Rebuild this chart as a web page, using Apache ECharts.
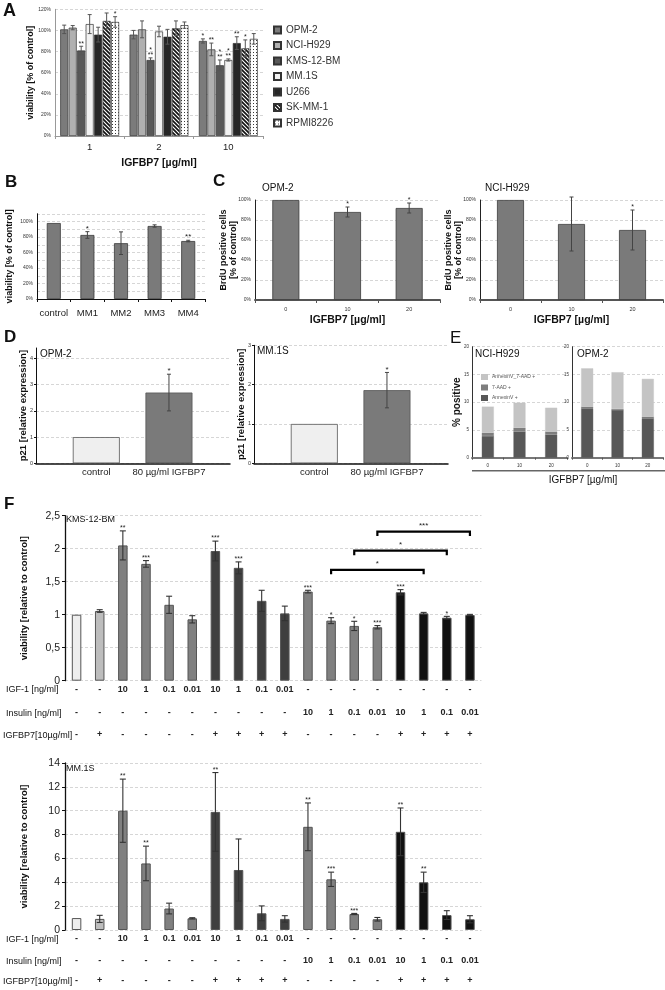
<!DOCTYPE html>
<html><head><meta charset="utf-8">
<script src="https://cdn.jsdelivr.net/npm/echarts@6/dist/echarts.min.js"></script>
<style>html,body{margin:0;padding:0;background:#fff}#c{width:665px;height:990px}</style>
</head><body><div id="c"></div>
<script>
// ---------------- DATA ----------------
// Panel A
const aGroups = ['1', '2', '10'];
const aLines = ['OPM-2', 'NCI-H929', 'KMS-12-BM', 'MM.1S', 'U266', 'SK-MM-1', 'RPMI8226'];
const aOPM2 = [101, 96, 90];      const aOPM2Err = [4, 4, 2];     const aOPM2Stars = ['', '', '*'];
const aNCI = [102.6, 101, 82];    const aNCIErr = [2, 8, 6];      const aNCIStars = ['', '', '**'];
const aKMS = [81, 72, 67];        const aKMSErr = [4, 2, 5];      const aKMSStars = ['**', '*\n**', '*\n**'];
const aMM1S = [106, 99, 72];      const aMM1SErr = [9, 5, 1];     const aMM1SStars = ['', '', '*\n**'];
const aU266 = [96, 94, 88];       const aU266Err = [7, 7, 6];     const aU266Stars = ['', '', '**'];
const aSK = [109, 102, 83];       const aSKErr = [7.5, 7, 8];     const aSKStars = ['', '', '*'];
const aRPMI = [108, 105, 92];     const aRPMIErr = [5, 3, 5];     const aRPMIStars = ['*', '', ''];
// Panel B
const bCats = ['control', 'MM1', 'MM2', 'MM3', 'MM4'];
const bVals = [98, 82.6, 72, 94.2, 74.8];
const bErr = [0, 4.3, 14.6, 1.5, 1];
const bStars = ['', '*', '', '', '**'];
// Panel C
const cCats = ['0', '10', '20'];
const cOPM = [100, 88, 92];   const cOPMErr = [0, 5, 5];   const cOPMStars = ['', '*', '*'];
const cNCI = [100, 76, 70];   const cNCIErr = [0, 27, 20]; const cNCIStars = ['', '', '*'];
// Panel D
const dCats = ['control', '80 µg/ml IGFBP7'];
const dXs = [1, 2];
const dOPM = [1, 2.7];   const dOPMErr = [0, 0.7];   const dOPMStars = ['', '*'];
const dMM = [1, 1.86];   const dMMErr = [0, 0.45];   const dMMStars = ['', '*'];
// Panel E
const eCats = ['0', '10', '20'];
const eNames = ['AnnexinV +', '7-AAD +', 'AnnexinV_7-AAD +'];
const eNCIAnnexin = [3.9, 4.7, 4.15];  const eNCIAAD = [0.6, 0.7, 0.55];  const eNCIDouble = [4.7, 4.5, 4.3];
const eOPMAnnexin = [8.9, 8.6, 7.1];   const eOPMAAD = [0.3, 0.2, 0.3];   const eOPMDouble = [6.9, 6.6, 6.8];
// Panel F
const fIGF = ['-', '-', '10', '1', '0.1', '0.01', '10', '1', '0.1', '0.01', '-', '-', '-', '-', '-', '-', '-', '-'];
const fIns = ['-', '-', '-', '-', '-', '-', '-', '-', '-', '-', '10', '1', '0.1', '0.01', '10', '1', '0.1', '0.01'];
const fBP = ['-', '+', '-', '-', '-', '-', '+', '+', '+', '+', '-', '-', '-', '-', '+', '+', '+', '+'];
const fKMS = [1.0, 1.056, 2.05, 1.77, 1.15, 0.93, 1.965, 1.71, 1.21, 1.02, 1.35, 0.91, 0.83, 0.81, 1.34, 1.02, 0.955, 0.995];
const fKMSErr = [0, 0.02, 0.22, 0.05, 0.13, 0.055, 0.15, 0.09, 0.16, 0.11, 0.02, 0.045, 0.07, 0.025, 0.04, 0.015, 0.02, 0.01];
const fKMSStars = ['', '', '**', '***', '', '', '***', '***', '', '', '***', '*', '*', '***', '***', '', '*', ''];
const fBrFrom = [13, 12, 11];
const fBrTo = [17, 16, 15];
const fBrLevel = [2.26, 1.97, 1.68];
const fBrStars = ['***', '*', '*'];
const fMM = [1.0, 0.93, 10.0, 5.58, 1.8, 0.98, 9.9, 5.03, 1.4, 0.93, 8.65, 4.25, 1.34, 0.9, 8.23, 4.0, 1.25, 0.9];
const fMMErr = [0, 0.3, 2.65, 1.45, 0.45, 0.05, 3.3, 2.6, 0.62, 0.27, 2.0, 0.6, 0.05, 0.15, 2.0, 0.85, 0.37, 0.3];
const fMMStars = ['', '', '**', '**', '', '', '**', '', '', '', '**', '***', '***', '', '**', '**', '', ''];

// ---------------- STYLE / BUILD ----------------
const FONT = "'Liberation Sans', Arial, Helvetica, sans-serif";
const grids = [], xAxes = [], yAxes = [], series = [], graphics = [];
const addGrid = g => grids.push(Object.assign({show: false, outerBoundsMode: 'none', containLabel: false}, g)) - 1;
const addX = o => xAxes.push(Object.assign({nameMoveOverlap: false}, o)) - 1;
const addY = o => yAxes.push(Object.assign({nameMoveOverlap: false}, o)) - 1;
const GL = {show: true, lineStyle: {color: '#cccccc', type: [3, 2], width: 0.8}};
const NOGL = {show: false};
function seg(x1, y1, x2, y2, c, w) { return {type: 'line', shape: {x1, y1, x2, y2}, style: {stroke: c, lineWidth: w}}; }
function errSeries(xi, yi, xs, vals, errs, stars, o) {
  return {type: 'custom', xAxisIndex: xi, yAxisIndex: yi, z: 10, silent: true, clip: false,
    data: vals.map((v, i) => [xs ? xs[i] : i, v, errs[i]]),
    renderItem(params, api) {
      const i = params.dataIndex, x = api.value(0), v = api.value(1), e = api.value(2);
      const p = api.coord([x, v]), t = api.coord([x, v + e]), b = api.coord([x, v - e]);
      const cx = p[0] + (o.offset || 0), w = o.whisker / 2, ch = [];
      const col = o.color || '#444', lw = o.lw || 1;
      if (e > 0) ch.push(seg(cx, t[1], cx, b[1], col, lw), seg(cx - w, t[1], cx + w, t[1], col, lw), seg(cx - w, b[1], cx + w, b[1], col, lw));
      const s = stars ? stars[i] : '';
      const fs = o.starSize || 7;
      if (s) ch.push({type: 'text', style: {text: s, x: cx, y: Math.min(t[1], p[1]) - (o.gap || 0), align: 'center', verticalAlign: 'bottom', fontSize: fs, fontFamily: FONT, fill: '#222', lineHeight: fs * 0.75}});
      return {type: 'group', children: ch};
    }};
}
function txt(x, y, s, size, bold, extra) {
  graphics.push({type: 'text', x, y, silent: true, style: Object.assign({text: s, fontSize: size, fontWeight: bold ? 'bold' : 'normal', fontFamily: FONT, fill: '#111', align: 'left', verticalAlign: 'middle'}, extra || {})});
}
function pattern(kind) {
  const c = document.createElement('canvas');
  const g = c.getContext('2d');
  if (kind === 'stripes') {
    c.width = c.height = 4;
    g.fillStyle = '#ffffff'; g.fillRect(0, 0, 4, 4);
    g.strokeStyle = '#111'; g.lineWidth = 1.7; g.beginPath();
    g.moveTo(0, 0); g.lineTo(4, 4); g.moveTo(3, -1); g.lineTo(5, 1); g.moveTo(-1, 3); g.lineTo(1, 5); g.stroke();
  } else {
    c.width = c.height = 3;
    g.fillStyle = '#ffffff'; g.fillRect(0, 0, 3, 3);
    g.fillStyle = '#3a3a3a'; g.fillRect(1, 1, 1, 1);
  }
  return {image: c, repeat: 'repeat'};
}

// ---------- Panel A ----------
const gA = addGrid({left: 55, top: 9.3, width: 208, height: 126.7});
const xA = addX({type: 'category', gridIndex: gA, data: aGroups,
  axisLine: {lineStyle: {color: '#999', width: 1}}, axisTick: {show: true, alignWithLabel: false, length: 3, lineStyle: {color: '#999'}},
  axisLabel: {fontSize: 9.5, color: '#222', margin: 6, interval: 0}, splitLine: NOGL,
  name: 'IGFBP7 [µg/ml]', nameLocation: 'middle', nameGap: 22, nameTextStyle: {fontSize: 10.5, fontWeight: 'bold', color: '#111'}});
const yA = addY({type: 'value', gridIndex: gA, min: 0, max: 120, interval: 20,
  axisLine: {show: true, lineStyle: {color: '#999'}}, axisTick: {show: false},
  axisLabel: {fontSize: 5, color: '#333', formatter: '{value}%', margin: 4}, splitLine: GL,
  name: 'viability [% of control]', nameLocation: 'middle', nameGap: 20, nameTextStyle: {fontSize: 9, fontWeight: 'bold', color: '#111'}});
const aVals = [aOPM2, aNCI, aKMS, aMM1S, aU266, aSK, aRPMI];
const aErrs = [aOPM2Err, aNCIErr, aKMSErr, aMM1SErr, aU266Err, aSKErr, aRPMIErr];
const aStars = [aOPM2Stars, aNCIStars, aKMSStars, aMM1SStars, aU266Stars, aSKStars, aRPMIStars];
const aFill = ['#7b7b7b', '#b0b0b0', '#585858', '#f2f2f2', '#262626', pattern('stripes'), pattern('dots')];
const A_BW = 8, A_GAP = 0.06;
const aGroupW = aLines.length * A_BW + (aLines.length - 1) * A_BW * A_GAP;
aLines.forEach((name, i) => {
  series.push({type: 'bar', name, xAxisIndex: xA, yAxisIndex: yA, data: aVals[i], barWidth: A_BW, barGap: (A_GAP * 100) + '%',
    itemStyle: {color: aFill[i], borderColor: '#333', borderWidth: 0.7}});
});
aLines.forEach((name, i) => {
  const off = -aGroupW / 2 + A_BW / 2 + i * A_BW * (1 + A_GAP);
  series.push(errSeries(xA, yA, null, aVals[i], aErrs[i], aStars[i], {offset: off, whisker: 4, starSize: 7, color: '#555'}));
});

// ---------- Panel B ----------
const gB = addGrid({left: 37, top: 213.75, width: 168, height: 85.25});
const xB = addX({type: 'category', gridIndex: gB, data: bCats,
  axisLine: {lineStyle: {color: '#111', width: 1.2}}, axisTick: {show: true, length: 3, lineStyle: {color: '#111'}},
  axisLabel: {fontSize: 9.5, color: '#222', margin: 9, interval: 0}, splitLine: NOGL});
const yB = addY({type: 'value', gridIndex: gB, min: 0, max: 110, interval: 10,
  axisLine: {show: true, lineStyle: {color: '#111'}}, axisTick: {show: false},
  axisLabel: {fontSize: 5, color: '#333', margin: 4, showMaxLabel: false, formatter: v => (v % 20 === 0 ? v + '%' : '')}, splitLine: GL,
  name: 'viability [% of control]', nameLocation: 'middle', nameGap: 23, nameTextStyle: {fontSize: 9, fontWeight: 'bold', color: '#111'}});
series.push({type: 'bar', name: 'B', xAxisIndex: xB, yAxisIndex: yB, data: bVals, barWidth: 14,
  itemStyle: {color: '#7a7a7a', borderColor: '#3a3a3a', borderWidth: 0.8}});
series.push(errSeries(xB, yB, null, bVals, bErr, bStars, {whisker: 4, starSize: 8}));

// ---------- Panel C ----------
function panelC(left, width, vals, errs, stars) {
  const g = addGrid({left, top: 200, width, height: 100});
  const xi = addX({type: 'category', gridIndex: g, data: cCats,
    axisLine: {lineStyle: {color: '#555', width: 2}}, axisTick: {show: true, length: 3, lineStyle: {color: '#555'}},
    axisLabel: {fontSize: 5.5, color: '#333', margin: 6, interval: 0}, splitLine: NOGL,
    name: 'IGFBP7 [µg/ml]', nameLocation: 'middle', nameGap: 15, nameTextStyle: {fontSize: 10.5, fontWeight: 'bold', color: '#111'}});
  const yi = addY({type: 'value', gridIndex: g, min: 0, max: 100, interval: 20,
    axisLine: {show: true, lineStyle: {color: '#222'}}, axisTick: {show: false},
    axisLabel: {fontSize: 5, color: '#333', margin: 4, formatter: '{value}%'}, splitLine: GL,
    name: 'BrdU positive cells\n[% of control]', nameLocation: 'middle', nameGap: 16,
    nameTextStyle: {fontSize: 9, fontWeight: 'bold', color: '#111', lineHeight: 10}});
  series.push({type: 'bar', name: 'C', xAxisIndex: xi, yAxisIndex: yi, data: vals, barWidth: 27,
    itemStyle: {color: '#7a7a7a', borderColor: '#3a3a3a', borderWidth: 0.8}});
  series.push(errSeries(xi, yi, null, vals, errs, stars, {whisker: 4, starSize: 7}));
}
panelC(255, 185, cOPM, cOPMErr, cOPMStars);
panelC(480, 183, cNCI, cNCIErr, cNCIStars);

// ---------- Panel D ----------
function panelD(left, top, height, max, vals, errs, stars) {
  const g = addGrid({left, top, width: 194, height});
  const xi = addX({type: 'value', gridIndex: g, min: 0.17, max: 2.84,
    axisLine: {show: true, onZero: false, lineStyle: {color: '#111', width: 1.5}}, axisTick: {show: false}, splitLine: NOGL,
    axisLabel: {customValues: dXs, formatter: v => dCats[Math.round(v) - 1] || '', fontSize: 9.5, color: '#222', margin: 4}});
  const yi = addY({type: 'value', gridIndex: g, min: 0, max, interval: 1,
    axisLine: {show: true, lineStyle: {color: '#111'}}, axisTick: {show: true, length: 2, lineStyle: {color: '#111'}},
    axisLabel: {fontSize: 5.5, color: '#333', margin: 3, showMaxLabel: Number.isInteger(max), formatter: v => (Number.isInteger(v) ? String(v) : '')},
    splitLine: Object.assign({}, GL, {showMaxLine: Number.isInteger(max)}),
    name: 'p21 [relative expression]', nameLocation: 'middle', nameGap: 8, nameTextStyle: {fontSize: 9.5, fontWeight: 'bold', color: '#111'}});
  const cols = ['#efefef', '#7a7a7a'];
  series.push({type: 'bar', name: 'D', xAxisIndex: xi, yAxisIndex: yi, barWidth: 47,
    data: vals.map((v, i) => ({value: [dXs[i], v], itemStyle: {color: cols[i]}})),
    itemStyle: {borderColor: '#555', borderWidth: 0.8}});
  series.push(errSeries(xi, yi, dXs, vals, errs, stars, {whisker: 4, starSize: 8}));
}
panelD(36, 348, 115.3, 4.4, dOPM, dOPMErr, dOPMStars);
panelD(254, 345.3, 118, 3, dMM, dMMErr, dMMStars);

// ---------- Panel E ----------
const eCols = ['#585858', '#7e7e7e', '#c4c4c4'];
function panelE(left, width, annex, aad, dbl, withName) {
  const g = addGrid({left, top: 346.7, width, height: 111});
  const xi = addX({type: 'category', gridIndex: g, data: eCats,
    axisLine: {lineStyle: {color: '#777', width: 2}}, axisTick: {show: true, length: 2, lineStyle: {color: '#555'}},
    axisLabel: {fontSize: 4.5, color: '#333', margin: 6, interval: 0}, splitLine: NOGL});
  const yi = addY(Object.assign({type: 'value', gridIndex: g, min: 0, max: 20, interval: 5,
    axisLine: {show: true, lineStyle: {color: '#333'}}, axisTick: {show: false},
    axisLabel: {fontSize: 4.5, color: '#333', margin: 3}, splitLine: GL},
    withName ? {name: '% positive', nameLocation: 'middle', nameGap: 10, nameTextStyle: {fontSize: 10, fontWeight: 'bold', color: '#111'}} : {}));
  [annex, aad, dbl].forEach((d, k) => {
    series.push({type: 'bar', name: eNames[k], stack: 'E' + g, xAxisIndex: xi, yAxisIndex: yi, data: d, barWidth: 12,
      itemStyle: {color: eCols[k], borderColor: eCols[k], borderWidth: 0.4}});
  });
}
panelE(472, 95, eNCIAnnexin, eNCIAAD, eNCIDouble, true);
panelE(572, 91, eOPMAnnexin, eOPMAAD, eOPMDouble, false);

// ---------- Panel F ----------
const fCol = i => (i === 0 ? '#eeeeee' : i === 1 ? '#bdbdbd' : i < 6 ? '#808080' : i < 10 ? '#3f3f3f' : i < 14 ? '#808080' : '#111111');
const fIdx = fIGF.map((_, i) => String(i));
function panelF(top, height, max, interval, vals, errs, stars, offs) {
  const g = addGrid({left: 65, top, width: 416.5, height});
  const rowLbl = {fontSize: 9, fontWeight: 'bold', color: '#222', interval: 0};
  const xi = addX({type: 'category', gridIndex: g, data: fIdx,
    axisLine: {show: false}, axisTick: {show: false}, splitLine: NOGL,
    axisLabel: Object.assign({margin: 4, formatter: (v, i) => fIGF[i]}, rowLbl)});
  addX({type: 'category', gridIndex: g, data: fIdx, position: 'bottom', offset: offs[0],
    axisLine: {show: false}, axisTick: {show: false}, splitLine: NOGL,
    axisLabel: Object.assign({margin: 4, formatter: (v, i) => fIns[i]}, rowLbl)});
  addX({type: 'category', gridIndex: g, data: fIdx, position: 'bottom', offset: offs[1],
    axisLine: {show: false}, axisTick: {show: false}, splitLine: NOGL,
    axisLabel: Object.assign({margin: 4, formatter: (v, i) => fBP[i]}, rowLbl)});
  const yi = addY({type: 'value', gridIndex: g, min: 0, max, interval,
    axisLine: {show: true, lineStyle: {color: '#111', width: 1.3}}, axisTick: {show: true, length: 3, lineStyle: {color: '#111'}},
    axisLabel: {fontSize: 10.5, color: '#222', margin: 5, formatter: v => String(v).replace('.', ',')}, splitLine: GL,
    name: 'viability [relative to control]', nameLocation: 'middle', nameGap: 36, nameTextStyle: {fontSize: 9.5, fontWeight: 'bold', color: '#111'}});
  series.push({type: 'bar', name: 'F' + g, xAxisIndex: xi, yAxisIndex: yi, barWidth: 9.5,
    data: vals.map((v, i) => ({value: v, itemStyle: {color: fCol(i)}})),
    itemStyle: {borderColor: '#555', borderWidth: 1}});
  series.push(errSeries(xi, yi, null, vals, errs, stars, {whisker: 6, starSize: 7, color: '#333', lw: 1.1}));
  return {xi, yi};
}
const F1 = panelF(515.7, 165, 2.5, 0.5, fKMS, fKMSErr, fKMSStars, [23, 45]);
const F2 = panelF(763, 167, 14, 2, fMM, fMMErr, fMMStars, [22.5, 42.5]);
series.push({type: 'custom', xAxisIndex: F1.xi, yAxisIndex: F1.yi, z: 12, silent: true, clip: false,
  data: fBrFrom.map((f, i) => [f, fBrTo[i], fBrLevel[i]]),
  renderItem(params, api) {
    const a = api.coord([api.value(0), api.value(2)]), b = api.coord([api.value(1), api.value(2)]);
    const d = 4.5;
    return {type: 'group', children: [
      {type: 'polyline', shape: {points: [[a[0], a[1] + d], [a[0], a[1]], [b[0], b[1]], [b[0], b[1] + d]]}, style: {stroke: '#000', lineWidth: 2.2, fill: null}},
      {type: 'text', style: {text: fBrStars[params.dataIndex], x: (a[0] + b[0]) / 2, y: a[1] - 2, align: 'center', verticalAlign: 'bottom', fontSize: 8, fontFamily: FONT, fill: '#222'}}
    ]};
  }});

// ---------- Text annotations ----------
txt(3, 11, 'A', 18, true);
txt(5, 182, 'B', 17, true);
txt(213, 181, 'C', 17, true);
txt(4, 337, 'D', 17, true);
txt(450, 338, 'E', 17, false);
txt(4, 504, 'F', 17, true);
txt(262, 188, 'OPM-2', 10, false);
txt(485, 188, 'NCI-H929', 10, false);
txt(40, 354, 'OPM-2', 10, false);
txt(257, 351, 'MM.1S', 10, false);
txt(475, 354, 'NCI-H929', 10, false);
txt(577, 354, 'OPM-2', 10, false);
txt(583, 480, 'IGFBP7 [µg/ml]', 10, false, {align: 'center'});
txt(66, 520, 'KMS-12-BM', 9, false);
txt(66, 769, 'MM.1S', 9, false);
[[690, 713.3, 735.2], [939.3, 961.7, 981.7]].forEach(ys => {
  txt(6, ys[0], 'IGF-1 [ng/ml]', 9, false);
  txt(6, ys[1], 'Insulin [ng/ml]', 9, false);
  txt(3, ys[2], 'IGFBP7[10µg/ml]', 9, false);
});
graphics.push({type: 'line', silent: true, shape: {x1: 472, y1: 470.7, x2: 665, y2: 470.7}, style: {stroke: '#666', lineWidth: 1.5}});

const chart = echarts.init(document.getElementById('c'), null, {renderer: 'canvas'});
chart.setOption({
  animation: false,
  backgroundColor: '#fff',
  textStyle: {fontFamily: FONT},
  legend: [
    {data: aLines, orient: 'vertical', left: 268, top: 20, itemWidth: 7, itemHeight: 7, itemGap: 5.5, icon: 'rect', selectedMode: false,
      textStyle: {fontSize: 10, color: '#333', fontFamily: FONT}},
    {data: eNames.slice().reverse(), orient: 'vertical', left: 476, top: 369, itemWidth: 5, itemHeight: 4, itemGap: 4.5, icon: 'rect', selectedMode: false,
      textStyle: {fontSize: 5, color: '#555', fontFamily: FONT}}
  ],
  grid: grids, xAxis: xAxes, yAxis: yAxes, series, graphic: graphics
});
</script></body></html>
